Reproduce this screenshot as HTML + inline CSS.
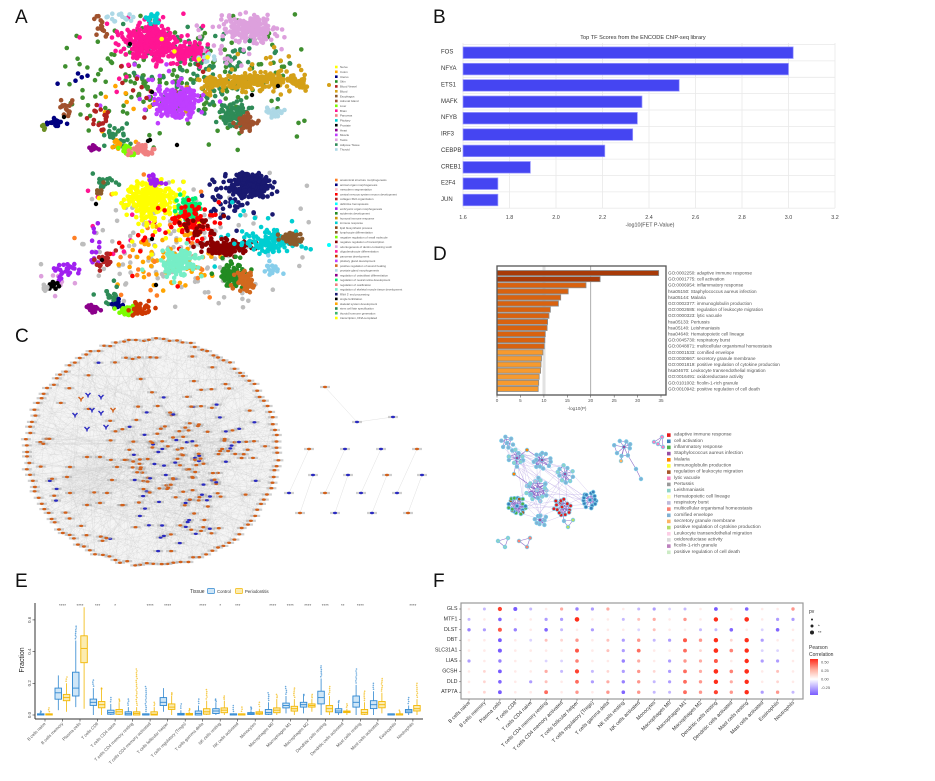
<!DOCTYPE html>
<html><head><meta charset="utf-8">
<style>
html,body{margin:0;padding:0;background:#fff;}
svg{display:block;font-family:"Liberation Sans",Arial,sans-serif;}
</style></head><body>
<svg id="s" width="935" height="781" viewBox="0 0 935 781" xmlns="http://www.w3.org/2000/svg">
<rect width="935" height="781" fill="#fff"/>
<defs>
<linearGradient id="pc" x1="0" y1="0" x2="0" y2="1">
<stop offset="0" stop-color="#ff2a1a"/><stop offset="0.3" stop-color="#ffb0a0"/><stop offset="0.56" stop-color="#ffffff"/><stop offset="1" stop-color="#7a5cff"/>
</linearGradient>
</defs>

<!-- Panel letters -->
<g font-size="19" fill="#111">
<text x="15" y="23">A</text><text x="433" y="23">B</text>
<text x="15" y="342">C</text><text x="433" y="260">D</text>
<text x="15" y="587">E</text><text x="433" y="587">F</text>
</g>

<!-- ===== A ===== -->
<g id="gA1"></g><g id="gA2"></g>
<g font-size="2.9" fill="#555">
<g id="legA1">
<rect x="335" y="65.7" width="2.6" height="2.6" fill="#ffff00"/><text x="340" y="68.2">Nerve</text>
<rect x="335" y="70.5" width="2.6" height="2.6" fill="#ffa500"/><text x="340" y="73">Colon</text>
<rect x="335" y="75.4" width="2.6" height="2.6" fill="#000080"/><text x="340" y="77.9">Uterus</text>
<rect x="335" y="80.2" width="2.6" height="2.6" fill="#228b22"/><text x="340" y="82.7">Skin</text>
<rect x="335" y="85.1" width="2.6" height="2.6" fill="#b22222"/><text x="340" y="87.6">Blood Vessel</text>
<rect x="335" y="90" width="2.6" height="2.6" fill="#d4a017"/><text x="340" y="92.5">Blood</text>
<rect x="335" y="94.8" width="2.6" height="2.6" fill="#8b5a2b"/><text x="340" y="97.3">Esophagus</text>
<rect x="335" y="99.7" width="2.6" height="2.6" fill="#a0522d"/><text x="340" y="102.2">Adrenal Gland</text>
<rect x="335" y="104.5" width="2.6" height="2.6" fill="#7cfc00"/><text x="340" y="107">Liver</text>
<rect x="335" y="109.4" width="2.6" height="2.6" fill="#ff1493"/><text x="340" y="111.9">Brain</text>
<rect x="335" y="114.2" width="2.6" height="2.6" fill="#f08080"/><text x="340" y="116.7">Pancreas</text>
<rect x="335" y="119.1" width="2.6" height="2.6" fill="#00ced1"/><text x="340" y="121.6">Pituitary</text>
<rect x="335" y="123.9" width="2.6" height="2.6" fill="#000000"/><text x="340" y="126.4">Prostate</text>
<rect x="335" y="128.8" width="2.6" height="2.6" fill="#8b008b"/><text x="340" y="131.3">Heart</text>
<rect x="335" y="133.6" width="2.6" height="2.6" fill="#bf3eff"/><text x="340" y="136.1">Muscle</text>
<rect x="335" y="138.5" width="2.6" height="2.6" fill="#dda0dd"/><text x="340" y="141">Testis</text>
<rect x="335" y="143.3" width="2.6" height="2.6" fill="#2e8b57"/><text x="340" y="145.8">Adipose Tissue</text>
<rect x="335" y="148.2" width="2.6" height="2.6" fill="#add8e6"/><text x="340" y="150.7">Thyroid</text>
</g>
<g id="legA2">
<rect x="335" y="178.7" width="2.6" height="2.6" fill="#ff7f24"/><text x="340" y="181.2">anatomical structure morphogenesis</text>
<rect x="335" y="183.5" width="2.6" height="2.6" fill="#000080"/><text x="340" y="186">animal organ morphogenesis</text>
<rect x="335" y="188.2" width="2.6" height="2.6" fill="#ffb6c1"/><text x="340" y="190.7">mesoderm segmentation</text>
<rect x="335" y="193" width="2.6" height="2.6" fill="#ff0000"/><text x="340" y="195.5">central nervous system neuron development</text>
<rect x="335" y="197.7" width="2.6" height="2.6" fill="#b22222"/><text x="340" y="200.2">collagen fibril organization</text>
<rect x="335" y="202.5" width="2.6" height="2.6" fill="#00ffff"/><text x="340" y="205">definitive hemopoiesis</text>
<rect x="335" y="207.3" width="2.6" height="2.6" fill="#a020f0"/><text x="340" y="209.8">embryonic organ morphogenesis</text>
<rect x="335" y="212" width="2.6" height="2.6" fill="#228b22"/><text x="340" y="214.5">epidermis development</text>
<rect x="335" y="216.8" width="2.6" height="2.6" fill="#cd950c"/><text x="340" y="219.3">humoral immune response</text>
<rect x="335" y="221.5" width="2.6" height="2.6" fill="#00ced1"/><text x="340" y="224">immune response</text>
<rect x="335" y="226.3" width="2.6" height="2.6" fill="#8b4513"/><text x="340" y="228.8">lipid biosynthetic process</text>
<rect x="335" y="231" width="2.6" height="2.6" fill="#8b5a2b"/><text x="340" y="233.5">lymphocyte differentiation</text>
<rect x="335" y="235.8" width="2.6" height="2.6" fill="#7cfc00"/><text x="340" y="238.3">negative regulation of small molecule</text>
<rect x="335" y="240.6" width="2.6" height="2.6" fill="#8b0000"/><text x="340" y="243.1">negative regulation of transcription</text>
<rect x="335" y="245.3" width="2.6" height="2.6" fill="#dda0dd"/><text x="340" y="247.8">odontogenesis of dentin-containing tooth</text>
<rect x="335" y="250.1" width="2.6" height="2.6" fill="#ff1493"/><text x="340" y="252.6">oligodendrocyte differentiation</text>
<rect x="335" y="254.8" width="2.6" height="2.6" fill="#cd3700"/><text x="340" y="257.3">pancreas development</text>
<rect x="335" y="259.6" width="2.6" height="2.6" fill="#bf3eff"/><text x="340" y="262.1">pituitary gland development</text>
<rect x="335" y="264.3" width="2.6" height="2.6" fill="#d2691e"/><text x="340" y="266.8">positive regulation of wound healing</text>
<rect x="335" y="269.1" width="2.6" height="2.6" fill="#add8e6"/><text x="340" y="271.6">prostate gland morphogenesis</text>
<rect x="335" y="273.9" width="2.6" height="2.6" fill="#8b008b"/><text x="340" y="276.4">regulation of osteoblast differentiation</text>
<rect x="335" y="278.6" width="2.6" height="2.6" fill="#00ee76"/><text x="340" y="281.1">regulation of neural retina development</text>
<rect x="335" y="283.4" width="2.6" height="2.6" fill="#f08080"/><text x="340" y="285.9">regulation of ossification</text>
<rect x="335" y="288.1" width="2.6" height="2.6" fill="#76eec6"/><text x="340" y="290.6">regulation of skeletal muscle tissue development</text>
<rect x="335" y="292.9" width="2.6" height="2.6" fill="#191970"/><text x="340" y="295.4">RNA 3' end processing</text>
<rect x="335" y="297.6" width="2.6" height="2.6" fill="#000000"/><text x="340" y="300.1">single fertilization</text>
<rect x="335" y="302.4" width="2.6" height="2.6" fill="#ffa500"/><text x="340" y="304.9">skeletal system development</text>
<rect x="335" y="307.2" width="2.6" height="2.6" fill="#2e8b57"/><text x="340" y="309.7">stem cell fate specification</text>
<rect x="335" y="311.9" width="2.6" height="2.6" fill="#3cb371"/><text x="340" y="314.4">thyroid hormone generation</text>
<rect x="335" y="316.7" width="2.6" height="2.6" fill="#ffff00"/><text x="340" y="319.2">transcription, DNA-templated</text>
</g>
</g>
<circle cx="329" cy="85" r="2" fill="#d4a017"/>
<circle cx="329" cy="245" r="2" fill="#00ffff"/>

<!-- ===== B ===== -->
<g id="gB">
<g stroke="#e9e9e9" stroke-width="0.8">
<line x1="463" y1="43" x2="463" y2="208"/><line x1="509.5" y1="43" x2="509.5" y2="208"/><line x1="556" y1="43" x2="556" y2="208"/><line x1="602.5" y1="43" x2="602.5" y2="208"/><line x1="649" y1="43" x2="649" y2="208"/><line x1="695.5" y1="43" x2="695.5" y2="208"/><line x1="742" y1="43" x2="742" y2="208"/><line x1="788.5" y1="43" x2="788.5" y2="208"/><line x1="835" y1="43" x2="835" y2="208"/>
<line x1="463" y1="44.5" x2="835" y2="44.5"/><line x1="463" y1="60.9" x2="835" y2="60.9"/><line x1="463" y1="77.3" x2="835" y2="77.3"/><line x1="463" y1="93.6" x2="835" y2="93.6"/><line x1="463" y1="110" x2="835" y2="110"/><line x1="463" y1="126.4" x2="835" y2="126.4"/><line x1="463" y1="142.8" x2="835" y2="142.8"/><line x1="463" y1="159.1" x2="835" y2="159.1"/><line x1="463" y1="175.5" x2="835" y2="175.5"/><line x1="463" y1="191.9" x2="835" y2="191.9"/><line x1="463" y1="208.2" x2="835" y2="208.2"/>
</g>
<g fill="#4545f2" stroke="#9c9cff" stroke-width="0.7">
<rect x="463" y="46.9" width="330.2" height="11.6"/>
<rect x="463" y="63.3" width="325.5" height="11.6"/>
<rect x="463" y="79.6" width="216.2" height="11.6"/>
<rect x="463" y="96" width="179" height="11.6"/>
<rect x="463" y="112.4" width="174.4" height="11.6"/>
<rect x="463" y="128.8" width="169.7" height="11.6"/>
<rect x="463" y="145.1" width="141.8" height="11.6"/>
<rect x="463" y="161.5" width="67.4" height="11.6"/>
<rect x="463" y="177.9" width="34.9" height="11.6"/>
<rect x="463" y="194.2" width="34.9" height="11.6"/>
</g>
<g font-size="6" fill="#333" dominant-baseline="central">
<text x="441" y="52.7">FOS</text><text x="441" y="69.1">NFYA</text><text x="441" y="85.4">ETS1</text><text x="441" y="101.8">MAFK</text><text x="441" y="118.2">NFYB</text><text x="441" y="134.6">IRF3</text><text x="441" y="150.9">CEBPB</text><text x="441" y="167.3">CREB1</text><text x="441" y="183.7">E2F4</text><text x="441" y="200">JUN</text>
</g>
<text x="643" y="39" font-size="5.6" fill="#333" text-anchor="middle">Top TF Scores from the ENCODE ChIP-seq library</text>
<g font-size="5.4" fill="#444" text-anchor="middle">
<text x="463" y="219">1.6</text><text x="509.5" y="219">1.8</text><text x="556" y="219">2.0</text><text x="602.5" y="219">2.2</text><text x="649" y="219">2.4</text><text x="695.5" y="219">2.6</text><text x="742" y="219">2.8</text><text x="788.5" y="219">3.0</text><text x="835" y="219">3.2</text>
<text x="650" y="226.5">-log10(FET P-Value)</text>
</g>
</g>

<!-- ===== D bars ===== -->
<g id="gD">
<rect x="497" y="266" width="169" height="129" fill="#fff"/>
<rect x="542.5" y="266" width="3" height="129" fill="#e2e2e2"/>
<line x1="590.7" y1="266" x2="590.7" y2="395" stroke="#9a9a9a" stroke-width="0.8"/>
<g stroke="#8a8a8a" stroke-width="0.8">
<rect x="497" y="270.5" width="161.7" height="5.1" fill="#a83a08"/>
<rect x="497" y="276.6" width="103.1" height="5.1" fill="#a83a08"/>
<rect x="497" y="282.7" width="89" height="5.1" fill="#d9620f"/>
<rect x="497" y="288.8" width="71.2" height="5.1" fill="#d9620f"/>
<rect x="497" y="294.9" width="63.7" height="5.1" fill="#d9620f"/>
<rect x="497" y="301" width="61.4" height="5.1" fill="#d9620f"/>
<rect x="497" y="307.1" width="53.4" height="5.1" fill="#d9620f"/>
<rect x="497" y="313.2" width="52" height="5.1" fill="#d9620f"/>
<rect x="497" y="319.3" width="50.6" height="5.1" fill="#d9620f"/>
<rect x="497" y="325.4" width="50.1" height="5.1" fill="#d9620f"/>
<rect x="497" y="331.5" width="48.3" height="5.1" fill="#d9620f"/>
<rect x="497" y="337.6" width="47.8" height="5.1" fill="#d9620f"/>
<rect x="497" y="343.7" width="47.3" height="5.1" fill="#d9620f"/>
<rect x="497" y="349.8" width="45.9" height="5.1" fill="#f79a2e"/>
<rect x="497" y="355.9" width="44.5" height="5.1" fill="#f79a2e"/>
<rect x="497" y="362" width="44" height="5.1" fill="#f79a2e"/>
<rect x="497" y="368.1" width="43.6" height="5.1" fill="#f79a2e"/>
<rect x="497" y="374.2" width="42.2" height="5.1" fill="#f79a2e"/>
<rect x="497" y="380.3" width="41.7" height="5.1" fill="#f79a2e"/>
<rect x="497" y="386.4" width="41.2" height="5.1" fill="#f79a2e"/>
</g>
<rect x="497" y="266" width="169" height="129" fill="none" stroke="#555" stroke-width="1.3"/>
<g stroke="#555" stroke-width="0.6">
<line x1="497" y1="395" x2="497" y2="397.5"/><line x1="520.4" y1="395" x2="520.4" y2="397.5"/><line x1="543.9" y1="395" x2="543.9" y2="397.5"/><line x1="567.3" y1="395" x2="567.3" y2="397.5"/><line x1="590.7" y1="395" x2="590.7" y2="397.5"/><line x1="614.2" y1="395" x2="614.2" y2="397.5"/><line x1="637.6" y1="395" x2="637.6" y2="397.5"/><line x1="661" y1="395" x2="661" y2="397.5"/>
</g>
<g font-size="4.6" fill="#555" text-anchor="middle">
<text x="497" y="402">0</text><text x="520.4" y="402">5</text><text x="543.9" y="402">10</text><text x="567.3" y="402">15</text><text x="590.7" y="402">20</text><text x="614.2" y="402">25</text><text x="637.6" y="402">30</text><text x="661" y="402">35</text>
<text x="577" y="410">-log10(P)</text>
</g>
<g font-size="4.6" fill="#555" dominant-baseline="central">
<text x="668" y="273">GO:0002250: adaptive immune response</text>
<text x="668" y="279.1">GO:0001775: cell activation</text>
<text x="668" y="285.2">GO:0006954: inflammatory response</text>
<text x="668" y="291.3">hsa05150: Staphylococcus aureus infection</text>
<text x="668" y="297.4">hsa05144: Malaria</text>
<text x="668" y="303.5">GO:0002377: immunoglobulin production</text>
<text x="668" y="309.6">GO:0002685: regulation of leukocyte migration</text>
<text x="668" y="315.7">GO:0000323: lytic vacuole</text>
<text x="668" y="321.8">hsa05133: Pertussis</text>
<text x="668" y="327.9">hsa05140: Leishmaniasis</text>
<text x="668" y="334">hsa04640: Hematopoietic cell lineage</text>
<text x="668" y="340.1">GO:0045730: respiratory burst</text>
<text x="668" y="346.2">GO:0048871: multicellular organismal homeostasis</text>
<text x="668" y="352.3">GO:0001533: cornified envelope</text>
<text x="668" y="358.4">GO:0030667: secretory granule membrane</text>
<text x="668" y="364.5">GO:0001819: positive regulation of cytokine production</text>
<text x="668" y="370.6">hsa04670: Leukocyte transendothelial migration</text>
<text x="668" y="376.7">GO:0016491: oxidoreductase activity</text>
<text x="668" y="382.8">GO:0101002: ficolin-1-rich granule</text>
<text x="668" y="388.9">GO:0010942: positive regulation of cell death</text>
</g>
</g>

<!-- D network -->
<g id="gDn"></g>
<g font-size="4.8" fill="#555" dominant-baseline="central">
<rect x="667" y="433.3" width="3.6" height="3.6" fill="#e41a1c"/><text x="674" y="435.1">adaptive immune response</text>
<rect x="667" y="439.5" width="3.6" height="3.6" fill="#377eb8"/><text x="674" y="441.3">cell activation</text>
<rect x="667" y="445.6" width="3.6" height="3.6" fill="#4daf4a"/><text x="674" y="447.4">inflammatory response</text>
<rect x="667" y="451.8" width="3.6" height="3.6" fill="#984ea3"/><text x="674" y="453.6">Staphylococcus aureus infection</text>
<rect x="667" y="458" width="3.6" height="3.6" fill="#ff7f00"/><text x="674" y="459.8">Malaria</text>
<rect x="667" y="464.1" width="3.6" height="3.6" fill="#ffff33"/><text x="674" y="465.9">immunoglobulin production</text>
<rect x="667" y="470.3" width="3.6" height="3.6" fill="#a65628"/><text x="674" y="472.1">regulation of leukocyte migration</text>
<rect x="667" y="476.5" width="3.6" height="3.6" fill="#f781bf"/><text x="674" y="478.3">lytic vacuole</text>
<rect x="667" y="482.6" width="3.6" height="3.6" fill="#999999"/><text x="674" y="484.4">Pertussis</text>
<rect x="667" y="488.8" width="3.6" height="3.6" fill="#8dd3c7"/><text x="674" y="490.6">Leishmaniasis</text>
<rect x="667" y="495" width="3.6" height="3.6" fill="#ffffb3"/><text x="674" y="496.8">Hematopoietic cell lineage</text>
<rect x="667" y="501.1" width="3.6" height="3.6" fill="#bebada"/><text x="674" y="502.9">respiratory burst</text>
<rect x="667" y="507.3" width="3.6" height="3.6" fill="#fb8072"/><text x="674" y="509.1">multicellular organismal homeostasis</text>
<rect x="667" y="513.5" width="3.6" height="3.6" fill="#80b1d3"/><text x="674" y="515.3">cornified envelope</text>
<rect x="667" y="519.6" width="3.6" height="3.6" fill="#fdb462"/><text x="674" y="521.4">secretory granule membrane</text>
<rect x="667" y="525.8" width="3.6" height="3.6" fill="#b3de69"/><text x="674" y="527.6">positive regulation of cytokine production</text>
<rect x="667" y="532" width="3.6" height="3.6" fill="#fccde5"/><text x="674" y="533.8">Leukocyte transendothelial migration</text>
<rect x="667" y="538.1" width="3.6" height="3.6" fill="#d9d9d9"/><text x="674" y="539.9">oxidoreductase activity</text>
<rect x="667" y="544.3" width="3.6" height="3.6" fill="#bc80bd"/><text x="674" y="546.1">ficolin-1-rich granule</text>
<rect x="667" y="550.5" width="3.6" height="3.6" fill="#ccebc5"/><text x="674" y="552.3">positive regulation of cell death</text>
</g>

<!-- ===== C ===== -->
<g id="gC"></g>
<g id="gCr" stroke="#d8d8d8" stroke-width="0.4">
<line x1="325" y1="387" x2="357" y2="422"/><line x1="357" y1="422" x2="393" y2="417"/>
<line x1="309" y1="449" x2="289" y2="493"/><line x1="345" y1="449" x2="325" y2="493"/><line x1="381" y1="449" x2="361" y2="493"/><line x1="417" y1="449" x2="397" y2="493"/>
<line x1="313" y1="475" x2="300" y2="513"/><line x1="348" y1="475" x2="335" y2="513"/><line x1="387" y1="475" x2="372" y2="513"/><line x1="422" y1="475" x2="408" y2="513"/>
</g>
<g id="gCn"></g>

<!-- ===== E ===== -->
<g id="gE"></g>
<g font-size="5" fill="#333">
<text x="190" y="593">Tissue</text>
<rect x="207.5" y="588.5" width="7" height="5" rx="0.8" fill="#cfe6f7" stroke="#2f87d0" stroke-width="0.7"/>
<text x="217" y="593" font-size="4.3">Control</text>
<rect x="235.5" y="588.5" width="7" height="5" rx="0.8" fill="#fcecb0" stroke="#f2b705" stroke-width="0.7"/>
<text x="245" y="593" font-size="4.3">Periodontitis</text>
</g>
<text transform="translate(24,660) rotate(-90)" font-size="7" fill="#222" text-anchor="middle">Fraction</text>
<g font-size="4.5" fill="#555" text-anchor="middle">
<text transform="translate(31,715) rotate(-90)">0.0</text>
<text transform="translate(31,683.3) rotate(-90)">0.2</text>
<text transform="translate(31,651.6) rotate(-90)">0.4</text>
<text transform="translate(31,619.9) rotate(-90)">0.6</text>
</g>
<g font-size="4.5" fill="#555" text-anchor="middle">
<text x="62.5" y="607">****</text><text x="80" y="607">****</text><text x="97.6" y="607">***</text><text x="115.1" y="607">*</text>
<text x="150.1" y="607">****</text><text x="167.6" y="607">****</text><text x="202.7" y="607">****</text><text x="220.2" y="607">*</text>
<text x="237.7" y="607">***</text><text x="272.8" y="607">****</text><text x="290.3" y="607">****</text><text x="307.8" y="607">****</text>
<text x="325.3" y="607">****</text><text x="342.8" y="607">**</text><text x="360.4" y="607">****</text><text x="412.9" y="607">****</text>
</g>
<g font-size="4.3" fill="#555" text-anchor="end">
<text transform="translate(46,724) rotate(-45)">B cells naive</text>
<text transform="translate(63.5,724) rotate(-45)">B cells memory</text>
<text transform="translate(81,724) rotate(-45)">Plasma cells</text>
<text transform="translate(98.6,724) rotate(-45)">T cells CD8</text>
<text transform="translate(116.1,724) rotate(-45)">T cells CD4 naive</text>
<text transform="translate(133.6,724) rotate(-45)">T cells CD4 memory resting</text>
<text transform="translate(151.1,724) rotate(-45)">T cells CD4 memory activated</text>
<text transform="translate(168.6,724) rotate(-45)">T cells follicular helper</text>
<text transform="translate(186.2,724) rotate(-45)">T cells regulatory (Tregs)</text>
<text transform="translate(203.7,724) rotate(-45)">T cells gamma delta</text>
<text transform="translate(221.2,724) rotate(-45)">NK cells resting</text>
<text transform="translate(238.7,724) rotate(-45)">NK cells activated</text>
<text transform="translate(256.2,724) rotate(-45)">Monocytes</text>
<text transform="translate(273.8,724) rotate(-45)">Macrophages M0</text>
<text transform="translate(291.3,724) rotate(-45)">Macrophages M1</text>
<text transform="translate(308.8,724) rotate(-45)">Macrophages M2</text>
<text transform="translate(326.3,724) rotate(-45)">Dendritic cells resting</text>
<text transform="translate(343.8,724) rotate(-45)">Dendritic cells activated</text>
<text transform="translate(361.4,724) rotate(-45)">Mast cells resting</text>
<text transform="translate(378.9,724) rotate(-45)">Mast cells activated</text>
<text transform="translate(396.4,724) rotate(-45)">Eosinophils</text>
<text transform="translate(413.9,724) rotate(-45)">Neutrophils</text>
</g>

<!-- ===== F ===== -->
<rect x="461" y="603" width="342" height="96" fill="#fff" stroke="#9a9a9a" stroke-width="1.2"/>
<g id="gF"></g>
<g font-size="5.3" fill="#333" text-anchor="end" dominant-baseline="central">
<text x="457.5" y="609">GLS</text><text x="457.5" y="619.4">MTF1</text><text x="457.5" y="629.8">DLST</text><text x="457.5" y="640.2">DBT</text><text x="457.5" y="650.6">SLC31A1</text><text x="457.5" y="661">LIAS</text><text x="457.5" y="671.4">GCSH</text><text x="457.5" y="681.8">DLD</text><text x="457.5" y="692.2">ATP7A</text>
</g>
<g font-size="5.1" fill="#333" text-anchor="end">
<text transform="translate(470.5,703) rotate(-45)">B cells naive</text>
<text transform="translate(485.9,703) rotate(-45)">B cells memory</text>
<text transform="translate(501.4,703) rotate(-45)">Plasma cells</text>
<text transform="translate(516.8,703) rotate(-45)">T cells CD8</text>
<text transform="translate(532.2,703) rotate(-45)">T cells CD4 naive</text>
<text transform="translate(547.7,703) rotate(-45)">T cells CD4 memory resting</text>
<text transform="translate(563.1,703) rotate(-45)">T cells CD4 memory activated</text>
<text transform="translate(578.5,703) rotate(-45)">T cells follicular helper</text>
<text transform="translate(593.9,703) rotate(-45)">T cells regulatory (Tregs)</text>
<text transform="translate(609.4,703) rotate(-45)">T cells gamma delta</text>
<text transform="translate(624.8,703) rotate(-45)">NK cells resting</text>
<text transform="translate(640.2,703) rotate(-45)">NK cells activated</text>
<text transform="translate(655.7,703) rotate(-45)">Monocytes</text>
<text transform="translate(671.1,703) rotate(-45)">Macrophages M0</text>
<text transform="translate(686.5,703) rotate(-45)">Macrophages M1</text>
<text transform="translate(702,703) rotate(-45)">Macrophages M2</text>
<text transform="translate(717.4,703) rotate(-45)">Dendritic cells resting</text>
<text transform="translate(732.8,703) rotate(-45)">Dendritic cells activated</text>
<text transform="translate(748.2,703) rotate(-45)">Mast cells resting</text>
<text transform="translate(763.7,703) rotate(-45)">Mast cells activated</text>
<text transform="translate(779.1,703) rotate(-45)">Eosinophils</text>
<text transform="translate(794.5,703) rotate(-45)">Neutrophils</text>
</g>
<g font-size="5" fill="#333">
<text x="809" y="613">pv</text>
<circle cx="812" cy="619.5" r="1" fill="#222"/>
<circle cx="812" cy="626" r="1.5" fill="#222"/><text x="818" y="627.5" font-size="4.5">*</text>
<circle cx="812" cy="632.5" r="2" fill="#222"/><text x="818" y="634" font-size="4.5">**</text>
<text x="809" y="649">Pearson</text>
<text x="809" y="656">Correlation</text>
<rect x="810" y="659" width="8" height="36" fill="url(#pc)"/>
<g font-size="4" fill="#555">
<text x="821" y="663.5">0.50</text><text x="821" y="672">0.25</text><text x="821" y="680.5">0.00</text><text x="821" y="689">-0.25</text>
</g>
</g>
</svg>

<script>
(function(){
var seed=20240611;
function R(){seed|=0;seed=seed+0x6D2B79F5|0;var t=Math.imul(seed^seed>>>15,1|seed);t=t+Math.imul(t^t>>>7,61|t)^t;return((t^t>>>14)>>>0)/4294967296;}
function G(){var u=R()||1e-9,v=R();return Math.sqrt(-2*Math.log(u))*Math.cos(2*Math.PI*v);}
function put(id,s){document.getElementById(id).innerHTML=s;}
function f1(v){return v.toFixed(1);}

/* ---- Panel A scatter ---- */
function cl(box,cx,cy,sx,sy,n,col,r){var s='';for(var i=0;i<n;i++){var x=cx+G()*sx,y=cy+G()*sy;if(x<box[0]||x>box[2]||y<box[1]||y>box[3])continue;s+='<circle cx="'+f1(x)+'" cy="'+f1(y)+'" r="'+(r||2.3)+'" fill="'+col+'"/>';}return s;}
var b1=[40,12,312,158],s='';
s+=cl(b1,175,75,55,30,230,'#3f8f2f');
s+=cl(b1,200,65,35,25,110,'#2e8b57');
s+=cl(b1,150,50,30,20,40,'#ff1493');
s+=cl(b1,230,40,25,15,30,'#dda0dd');
s+=cl(b1,260,72,30,20,30,'#d4a017');
s+=cl(b1,160,95,25,20,25,'#bf3eff');
s+=cl(b1,150,90,30,20,15,'#b22222');
s+=cl(b1,120,110,20,15,10,'#ffa500');
s+=cl(b1,150,42,13,8,300,'#ff1493');
s+=cl(b1,188,52,8,5,100,'#ff1493');
s+=cl(b1,250,28,12,6,220,'#dda0dd');
s+=cl(b1,212,83,7,4,50,'#d4a017');
s+=cl(b1,240,82,10,4,90,'#d4a017');
s+=cl(b1,270,80,10,4,90,'#d4a017');
s+=cl(b1,296,82,6,3,45,'#d4a017');
s+=cl(b1,178,102,11,8,220,'#bf3eff');
s+=cl(b1,235,115,7,7,90,'#2e8b57');
s+=cl(b1,247,122,5,4,45,'#a0522d');
s+=cl(b1,100,27,3,5,15,'#a0522d');
s+=cl(b1,68,108,5,4,15,'#a0522d');
s+=cl(b1,100,117,6,5,18,'#b22222');
s+=cl(b1,120,17,8,3,15,'#add8e6');
s+=cl(b1,208,58,5,3,10,'#add8e6');
s+=cl(b1,275,113,5,3,20,'#add8e6');
s+=cl(b1,155,17,4,3,15,'#00ced1');
s+=cl(b1,57,123,5,2,18,'#000080');
s+=cl(b1,90,85,10,10,5,'#000080');
s+=cl(b1,115,135,7,6,25,'#2e8b57');
s+=cl(b1,117,146,3,3,14,'#ffa500');
s+=cl(b1,127,150,4,3,25,'#7cfc00');
s+=cl(b1,142,150,6,3,30,'#f08080');
s+=cl(b1,93,149,3,2,12,'#8b008b');
s+=cl(b1,42,127,3,2,6,'#6b8e23');
s+=cl(b1,200,45,20,20,4,'#ffff00');
[[130,44],[152,92],[252,95],[278,86],[64,117],[150,140],[177,145],[148,141]].forEach(function(p){s+='<circle cx="'+p[0]+'" cy="'+p[1]+'" r="2.2" fill="#000"/>';});
put('gA1',s);

var b2=[40,172,312,320];s='';
s+=cl(b2,180,240,60,35,150,'#bdbdbd');
s+=cl(b2,170,260,25,15,60,'#ffa500');
s+=cl(b2,150,250,40,30,25,'#ff7f24');
s+=cl(b2,130,230,20,20,10,'#ff1493');
s+=cl(b2,160,215,20,15,40,'#ffff00');
s+=cl(b2,230,200,15,12,60,'#191970');
s+=cl(b2,170,240,25,20,25,'#ff0000');
s+=cl(b2,250,230,25,15,20,'#00ced1');
s+=cl(b2,95,240,4,15,12,'#a020f0');
s+=cl(b2,60,280,10,5,8,'#dda0dd');
s+=cl(b2,150,200,11,9,280,'#ffff00');
s+=cl(b2,252,186,9,6,220,'#191970');
s+=cl(b2,188,208,6,6,70,'#00ee76');
s+=cl(b2,192,220,10,9,70,'#ff0000');
s+=cl(b2,200,230,10,8,25,'#8b0000');
s+=cl(b2,225,247,12,4,120,'#8b0000');
s+=cl(b2,270,242,13,5,110,'#00ced1');
s+=cl(b2,292,239,6,3,45,'#8b5a2b');
s+=cl(b2,178,262,9,7,150,'#76eec6');
s+=cl(b2,233,274,6,7,80,'#228b22');
s+=cl(b2,244,282,5,5,60,'#d2691e');
s+=cl(b2,66,270,7,4,25,'#a020f0');
s+=cl(b2,155,180,5,3,15,'#a020f0');
s+=cl(b2,54,284,3,2,12,'#000');
s+=cl(b2,105,182,6,3,18,'#2e8b57');
s+=cl(b2,110,295,5,6,20,'#2e8b57');
s+=cl(b2,100,190,3,3,10,'#8b5a2b');
s+=cl(b2,272,269,4,4,20,'#87ceeb');
s+=cl(b2,93,308,3,2,14,'#8b008b');
s+=cl(b2,117,305,3,3,12,'#000080');
s+=cl(b2,127,311,4,3,22,'#7cfc00');
s+=cl(b2,142,309,6,3,30,'#cd3700');
s+=cl(b2,103,262,6,5,25,'#b22222');
s+=cl(b2,45,287,4,2,8,'#bdbdbd');
[[96,204],[102,260],[156,285],[152,239]].forEach(function(p){s+='<circle cx="'+p[0]+'" cy="'+p[1]+'" r="2.2" fill="#000"/>';});
put('gA2',s);

/* ---- Panel C network ---- */
var cx0=152,cy0=452,rx=126,ry=114,per=[],inn=[],i;
for(i=0;i<118;i++){var a=i/118*Math.PI*2+R()*0.02,f=0.975+R()*0.035;per.push([cx0+Math.cos(a)*rx*f,cy0+Math.sin(a)*ry*f,'o']);}
for(i=0;i<40;i++){var a2=R()*Math.PI*2,f2=0.8+R()*0.1;inn.push([cx0+Math.cos(a2)*rx*f2,cy0+Math.sin(a2)*ry*f2,R()<0.15?'b':'o']);}
for(i=0;i<190;i++){var x=180+G()*36,y=462+G()*42;if(((x-cx0)/(rx*0.82))*((x-cx0)/(rx*0.82))+((y-cy0)/(ry*0.86))*((y-cy0)/(ry*0.86))>1)continue;var blue=(y>480?0.5:0.25);inn.push([x,y,R()<blue?'b':'o']);}
var ring=[[87,457],[100,457],[70,467],[67,477],[70,493],[87,505],[100,503],[107,493],[117,467],[112,480]];
ring.forEach(function(p){inn.push([p[0],p[1],'o']);});
var all=per.concat(inn),d='';
for(i=0;i<per.length;i++){for(var k=0;k<5;k++){var q=all[R()*all.length|0];d+='M'+f1(per[i][0])+' '+f1(per[i][1])+'L'+f1(q[0])+' '+f1(q[1]);}}
for(i=0;i<70;i++){var p=per[R()*per.length|0];var rr=ring[R()*ring.length|0];d+='M'+f1(p[0])+' '+f1(p[1])+'L'+f1(rr[0])+' '+f1(rr[1]);}
for(i=0;i<150;i++){var p1=inn[R()*inn.length|0],p2=inn[R()*inn.length|0];d+='M'+f1(p1[0])+' '+f1(p1[1])+'L'+f1(p2[0])+' '+f1(p2[1]);}
s='<ellipse cx="'+cx0+'" cy="'+cy0+'" rx="'+rx+'" ry="'+ry+'" fill="#f5f5f5"/>';
s+='<ellipse cx="88" cy="480" rx="26" ry="27" fill="#eeeeee"/>';
s+='<path d="'+d+'" stroke="#c4c4c4" stroke-width="0.3" stroke-opacity="0.4" fill="none"/>';
function cnode(x,y,c){return '<rect x="'+f1(x-5)+'" y="'+f1(y-1.1)+'" width="10" height="2.2" fill="#a8a8a8" opacity="0.55"/><ellipse cx="'+f1(x)+'" cy="'+f1(y)+'" rx="2" ry="1.2" fill="'+(c=='b'?'#2a2ac0':'#d2601a')+'"/>';}
all.forEach(function(p){s+=cnode(p[0],p[1],p[2]);});
[[88,395,'b'],[101,397,'b'],[75,415,'b'],[92,410,'b'],[101,413,'b'],[87,429,'b'],[106,427,'b'],[81,399,'o'],[113,410,'o']].forEach(function(p){var c=p[2]=='b'?'#2a2ac0':'#d2601a';s+='<path d="M'+(p[0]-2.5)+' '+(p[1]-2)+'L'+p[0]+' '+(p[1]+0.5)+'L'+(p[0]+2.5)+' '+(p[1]-2)+'M'+p[0]+' '+(p[1]+0.5)+'L'+p[0]+' '+(p[1]+2.5)+'" stroke="'+c+'" stroke-width="1.4" fill="none"/>';});
put('gC',s);
s='';
[[325,387],[357,422],[393,417],[309,449],[345,449],[381,449],[417,449],[313,475],[348,475],[387,475],[422,475],[289,493],[325,493],[361,493],[397,493],[300,513],[335,513],[372,513],[408,513]].forEach(function(p,j){s+=cnode(p[0],p[1],(j%3==0)?'o':'b');});
put('gCn',s);

/* ---- Panel D network ---- */
var dn=[],dp='',dp2='';
function nd(x,y,f){var p=[x,y,f];dn.push(p);return p;}
function ed(a,b){dp+='M'+f1(a[0])+' '+f1(a[1])+'L'+f1(b[0])+' '+f1(b[1]);}
function star(cx,cy,rad,n,fills,hub){var h=nd(cx,cy,hub);var arr=[h];for(var i=0;i<n;i++){var a=i/n*6.283+R()*0.4,rr=rad*(0.55+0.45*R());var p=nd(cx+Math.cos(a)*rr,cy+Math.sin(a)*rr,fills[i%fills.length]);arr.push(p);ed(h,p);}for(var k=0;k<n;k++){ed(arr[1+(R()*n|0)],arr[1+(R()*n|0)]);}return arr;}
var cls=[];
cls.push(star(507,443,8,6,['#80b1d3'],'#80b1d3'));
cls.push(star(517,458,9,10,['#80b1d3','#8dd3c7'],'#984ea3'));
cls.push(star(542,460,10,12,['#80b1d3'],'#984ea3'));
cls.push(star(565,474,9,10,['#80b1d3','#8dd3c7'],'#984ea3'));
cls.push(star(537,490,13,18,['#bebada','#80b1d3','#8dd3c7'],'#bebada'));
cls.push(star(517,506,10,18,['#4daf4a','#377eb8','#a65628','#4daf4a'],'#377eb8'));
cls.push(star(562,507,9,14,['#e41a1c'],'#e41a1c'));
cls.push(star(590,500,9,14,['#377eb8'],'#377eb8'));
cls.push(star(540,520,7,8,['#80b1d3'],'#984ea3'));
for(i=0;i<55;i++){var ca=cls[R()*cls.length|0],cb=cls[R()*cls.length|0];var pa=ca[R()*ca.length|0],pb=cb[R()*cb.length|0];dp2+='M'+f1(pa[0])+' '+f1(pa[1])+'L'+f1(pb[0])+' '+f1(pb[1]);}
var g1=nd(568,527,'#b3de69'),g2=nd(573,520,'#b3de69'),g3=nd(564,521,'#80b1d3');ed(g1,g2);ed(g2,g3);ed(g1,g3);ed(g3,cls[6][0]);
var t=star(624,447,10,8,['#80b1d3'],'#984ea3');var o1=nd(621,461,'#fdb462'),o2=nd(636,469,'#80b1d3'),o3=nd(641,479,'#80b1d3');ed(t[0],o1);ed(t[2],o2);ed(o2,o3);ed(t[3],o1);
var m1=nd(527,450,'#ff7f00'),m2=nd(514,474,'#ff7f00');ed(m1,cls[1][0]);ed(m1,cls[2][0]);ed(m2,cls[1][0]);ed(m2,cls[4][0]);
var k1=nd(654,442,'#f781bf'),k2=nd(662,437,'#f781bf'),k3=nd(663,447,'#f781bf'),k4=nd(658,444,'#f781bf');ed(k1,k2);ed(k2,k3);ed(k3,k1);ed(k4,k1);ed(k4,k2);ed(k4,k3);
var a1=nd(498,541,'#8dd3c7'),a2=nd(508,538,'#8dd3c7'),a3=nd(505,547,'#8dd3c7');ed(a1,a2);ed(a2,a3);ed(a3,a1);
var s1=nd(519,541,'#fb8072'),s2=nd(530,538,'#fb8072'),s3=nd(527,547,'#fb8072');ed(s1,s2);ed(s2,s3);ed(s3,s1);
s='<path d="'+dp2+'" stroke="#a58bdc" stroke-width="0.5" stroke-opacity="0.45" fill="none"/>';
s+='<path d="'+dp+'" stroke="#6a3fb5" stroke-width="0.6" stroke-opacity="0.75" fill="none"/>';
dn.forEach(function(p){s+='<circle cx="'+f1(p[0])+'" cy="'+f1(p[1])+'" r="1.8" fill="'+p[2]+'" stroke="#7ccbe8" stroke-width="0.8"/>';});
put('gDn',s);

/* ---- Panel E boxplots ---- */
function ey(v){return 715-v*158.5;}
var B=[[0,0.003,0.006,0,0.01,0.025],[0.1,0.14,0.17,0.03,0.25,0],[0.12,0.17,0.27,0.05,0.47,0.56],[0.06,0.08,0.1,0,0.17,0.22],[0.005,0.015,0.03,0,0.07,0.11],[0,0.008,0.02,0,0.05,0.1],[0,0.002,0.005,0,0.01,0.18],[0.06,0.08,0.11,0.02,0.17,0],[0,0.005,0.01,0,0.03,0.07],[0,0.01,0.025,0,0.06,0.1],[0.01,0.025,0.04,0,0.08,0.1],[0,0.002,0.005,0,0.01,0.06],[0.003,0.01,0.015,0,0.03,0.05],[0.005,0.015,0.035,0,0.08,0.14],[0.045,0.06,0.075,0.01,0.12,0.18],[0.05,0.065,0.08,0.01,0.12,0.13],[0.07,0.11,0.15,0,0.23,0.31],[0.015,0.025,0.04,0,0.07,0.09],[0.05,0.08,0.12,0,0.19,0.29],[0.04,0.065,0.09,0,0.15,0.2],[0,0.002,0.004,0,0.006,0.005],[0.015,0.025,0.035,0,0.06,0.11]];
var Y=[[0,0.003,0.006,0,0.01,0.045],[0.09,0.11,0.13,0.02,0.2,0.24],[0.33,0.42,0.5,0.04,0.68,0],[0.045,0.065,0.085,0,0.16,0.17],[0.005,0.02,0.035,0,0.08,0.1],[0,0.01,0.02,0,0.05,0.29],[0,0.005,0.02,0,0.05,0.08],[0.035,0.05,0.07,0,0.12,0.14],[0,0.005,0.01,0,0.02,0.04],[0.005,0.02,0.04,0,0.09,0.16],[0.015,0.03,0.045,0,0.09,0.12],[0,0.002,0.005,0,0.01,0.05],[0.005,0.012,0.02,0,0.04,0.08],[0.015,0.03,0.045,0,0.1,0.13],[0.025,0.04,0.055,0,0.1,0.17],[0.05,0.06,0.07,0.02,0.1,0.13],[0.02,0.04,0.06,0,0.12,0.18],[0.015,0.02,0.025,0,0.04,0.07],[0.005,0.015,0.035,0,0.08,0.15],[0.045,0.065,0.085,0.01,0.14,0.23],[0,0.002,0.004,0,0.006,0.03],[0.025,0.04,0.06,0,0.1,0.2]];
s='<line x1="35" y1="603" x2="35" y2="719" stroke="#333" stroke-width="1"/><line x1="35" y1="719" x2="423" y2="719" stroke="#333" stroke-width="1"/>';
[0,0.2,0.4,0.6].forEach(function(v){s+='<line x1="32.5" y1="'+f1(ey(v))+'" x2="35" y2="'+f1(ey(v))+'" stroke="#333" stroke-width="0.6"/>';});
function box(x,d,st,fl){var o='',xc=x+3.25;
 o+='<line x1="'+f1(xc)+'" y1="'+f1(ey(d[3]))+'" x2="'+f1(xc)+'" y2="'+f1(ey(d[4]))+'" stroke="'+st+'" stroke-width="0.8"/>';
 if(d[5]>d[4]){var n=Math.max(3,Math.round((d[5]-d[4])/0.012));for(var j=0;j<n;j++){var v=d[4]+(d[5]-d[4])*(j+1)/n;o+='<circle cx="'+f1(xc+(R()-0.5)*1)+'" cy="'+f1(ey(v))+'" r="0.8" fill="'+st+'" opacity="0.7"/>';}}
 var h=Math.max(ey(d[0])-ey(d[2]),1.2);
 o+='<rect x="'+f1(x)+'" y="'+f1(ey(d[0])-h)+'" width="6.5" height="'+f1(h)+'" fill="'+fl+'" stroke="'+st+'" stroke-width="0.9"/>';
 o+='<line x1="'+f1(x)+'" y1="'+f1(ey(d[1]))+'" x2="'+f1(x+6.5)+'" y2="'+f1(ey(d[1]))+'" stroke="'+st+'" stroke-width="0.9"/>';
 return o;}
for(i=0;i<22;i++){var cx=45+17.52*i;s+='<line x1="'+f1(cx)+'" y1="719" x2="'+f1(cx)+'" y2="721.5" stroke="#333" stroke-width="0.6"/>';s+=box(cx-7.5,B[i],'#2f87d0','#cfe6f7');s+=box(cx+0.8,Y[i],'#f2b705','#fcecb0');}
put('gE',s);

/* ---- Panel F dots ---- */
var M=[[0,-0.1,0.4,-0.35,-0.1,0,0.15,-0.2,-0.15,0.15,0,-0.1,-0.15,-0.05,-0.1,0,-0.3,0,-0.25,0,0,0.2],
[-0.1,0,-0.25,0,0,-0.15,-0.15,0.5,0,0,-0.1,0.1,0.15,0,0.2,0,0.45,0,0.5,0,-0.15,-0.15],
[-0.2,-0.15,0.35,-0.2,0,-0.25,-0.1,0,-0.15,0,0,-0.05,0.1,0,0,-0.1,-0.1,-0.25,0,-0.05,-0.25,0],
[0,0,-0.3,0,-0.05,0.1,0.05,0.2,0,0.1,-0.15,0.2,-0.1,-0.15,0.35,0.2,0.45,0.05,0.45,-0.15,0,0],
[0,0,-0.35,0,0,0,0,0.35,0,0.1,-0.15,0.3,0,0,0.3,0.05,0.5,0.25,0.45,-0.05,-0.05,0],
[-0.15,0,-0.2,0,0,-0.05,-0.05,0.25,0,0,-0.2,0.15,0,-0.15,0.2,0.15,0.35,0,0.45,-0.15,-0.15,0],
[0,0.05,-0.3,0,0,0.15,-0.1,0.4,-0.1,0.05,-0.15,0.2,0.05,-0.15,0.3,0.15,0.55,0.25,0.5,0,0.1,0],
[0,0.05,-0.25,0,-0.15,0.1,0,0.3,-0.15,0.15,-0.2,0.2,-0.1,-0.15,0.3,0.2,0.45,0.15,0.45,0,0.05,0],
[0,0.05,-0.3,0,0,0.3,0,0.2,0,0.2,-0.25,0.2,-0.1,-0.1,0.3,0.2,0.4,0.2,0.45,-0.15,0.2,-0.1]];
function mix(a,b,t){return 'rgb('+Math.round(a[0]+(b[0]-a[0])*t)+','+Math.round(a[1]+(b[1]-a[1])*t)+','+Math.round(a[2]+(b[2]-a[2])*t)+')';}
function fc(v){if(v>=0){return mix([255,255,255],[255,45,25],Math.min(0.1+v/0.5,1));}return mix([255,255,255],[120,90,255],Math.min(0.1-v/0.3,1));}
s='';
for(var r=0;r<9;r++){for(var c=0;c<22;c++){var v=M[r][c],x=469+c*15.43,y=609+r*10.4;s+='<circle cx="'+f1(x)+'" cy="'+f1(y)+'" r="'+(1.3+Math.min(Math.abs(v),0.5)*2).toFixed(2)+'" fill="'+fc(v)+'"/>';}}
for(c=0;c<22;c++){var xx=469+c*15.43;s+='<line x1="'+f1(xx)+'" y1="699" x2="'+f1(xx)+'" y2="701" stroke="#555" stroke-width="0.5"/>';}
for(r=0;r<9;r++){var yy=609+r*10.4;s+='<line x1="459" y1="'+f1(yy)+'" x2="461" y2="'+f1(yy)+'" stroke="#555" stroke-width="0.5"/>';}
put('gF',s);
})();
</script>
</body></html>
